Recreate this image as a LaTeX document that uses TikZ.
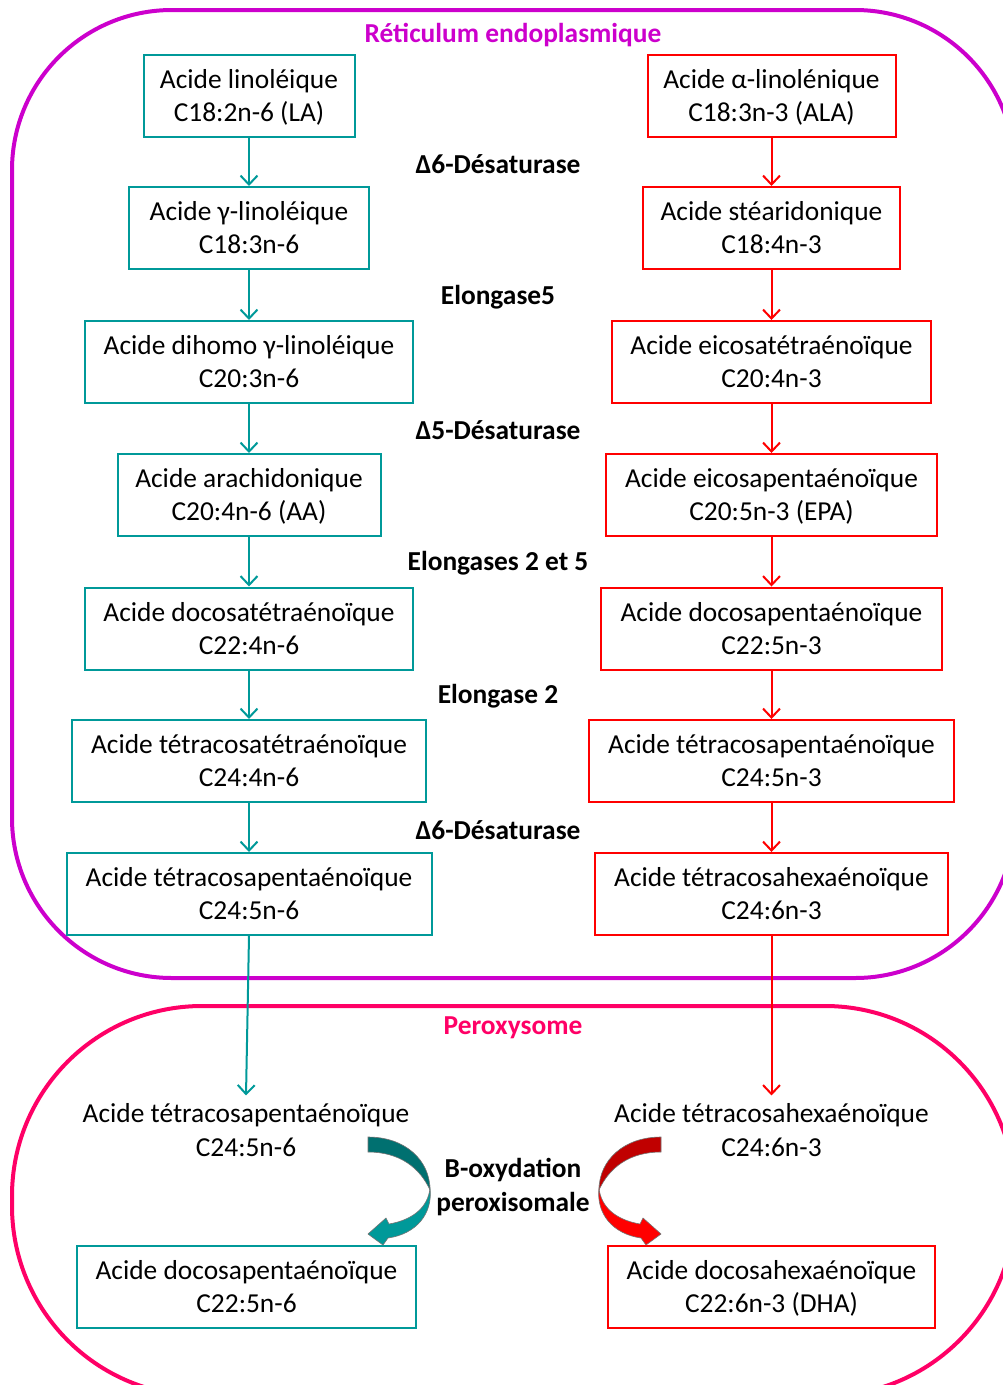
\documentclass[tikz,border=0pt]{standalone}
\usepackage{fontspec}
\setmainfont{Carlito}
\usetikzlibrary{arrows.meta}
\definecolor{tealc}{RGB}{0,153,153}
\definecolor{redc}{RGB}{255,0,0}
\definecolor{ermag}{RGB}{204,0,204}
\definecolor{perox}{RGB}{255,0,102}
\definecolor{tealdark}{RGB}{0,112,112}
\definecolor{reddark}{RGB}{192,0,0}
\begin{document}
\begin{tikzpicture}[x=1pt,y=-1pt,
  every node/.style={font=\fontsize{27.4}{33.4}\selectfont},
  tbox/.style={draw=tealc,line width=2pt,align=center,minimum height=82pt,inner xsep=6pt,fill=white,text depth=0.6pt},
  rbox/.style={draw=redc,line width=2pt,align=center,minimum height=82pt,inner xsep=6pt,fill=white,text depth=0.6pt},
  ptext/.style={align=center,inner sep=8pt},
  lbl/.style={font=\fontsize{27.4}{33.4}\selectfont\bfseries,align=center},
  tarr/.style={draw=tealc,line width=2pt,-{Straight Barb[length=9pt,width=17pt,line width=2pt]}},
  rarr/.style={draw=redc,line width=2pt,-{Straight Barb[length=9pt,width=17pt,line width=2pt]}},
  curvout/.style={draw=black!55,line width=0.6pt}
]
\useasboundingbox (0,0) rectangle (1003,1385);
\clip (0,0) rectangle (1003,1385);

% compartments
\draw[ermag,line width=4pt,rounded corners=160pt] (12,10) rectangle (1015,978);
\draw[perox,line width=4pt,rounded corners=190pt] (12,1006) rectangle (1015,1396);

\node[lbl,text=ermag] (ert) at (513,35) {Réticulum endoplasmique};
\node[lbl,text=perox] (pxt) at (513,1028) {Peroxysome};

% left column (n-6)
\node[tbox,minimum width=211pt] (L1) at (249,96) {Acide linoléique\\C18:2n-6 (LA)};
\node[tbox,minimum width=240pt] (L2) at (249,228) {Acide γ-linoléique\\C18:3n-6};
\node[tbox,minimum width=328pt] (L3) at (249,362) {Acide dihomo γ-linoléique\\C20:3n-6};
\node[tbox,minimum width=263pt] (L4) at (249,495) {Acide arachidonique\\C20:4n-6 (AA)};
\node[tbox,minimum width=328pt] (L5) at (249,628.5) {Acide docosatétraénoïque\\C22:4n-6};
\node[tbox,minimum width=354pt] (L6) at (249,761) {Acide tétracosatétraénoïque\\C24:4n-6};
\node[tbox,minimum width=365pt] (L7) at (249,894) {Acide tétracosapentaénoïque\\C24:5n-6};

% right column (n-3)
\node[rbox,minimum width=248pt] (R1) at (771.5,96) {Acide α-linolénique\\C18:3n-3 (ALA)};
\node[rbox,minimum width=257pt] (R2) at (771.5,228) {Acide stéaridonique\\C18:4n-3};
\node[rbox,minimum width=319pt] (R3) at (771.5,362) {Acide eicosatétraénoïque\\C20:4n-3};
\node[rbox,minimum width=331pt] (R4) at (771.5,495) {Acide eicosapentaénoïque\\C20:5n-3 (EPA)};
\node[rbox,minimum width=341pt] (R5) at (771.5,628.5) {Acide docosapentaénoïque\\C22:5n-3};
\node[rbox,minimum width=365pt] (R6) at (771.5,761) {Acide tétracosapentaénoïque\\C24:5n-3};
\node[rbox,minimum width=353pt] (R7) at (771.5,894) {Acide tétracosahexaénoïque\\C24:6n-3};

% enzyme labels
\node[lbl] (e1) at (498,164) {Δ6-Désaturase};
\node[lbl] (e2) at (498,297) {Elongase5};
\node[lbl] (e3) at (498,430) {Δ5-Désaturase};
\node[lbl] (e4) at (498,563) {Elongases 2 et 5};
\node[lbl] (e5) at (498,696) {Elongase 2};
\node[lbl] (e6) at (498,830) {Δ6-Désaturase};

% arrows in ER
\foreach \a/\b in {L1/L2,L2/L3,L3/L4,L4/L5,L5/L6,L6/L7} \draw[tarr] (\a.south) -- (\b.north);
\foreach \a/\b in {R1/R2,R2/R3,R3/R4,R4/R5,R5/R6,R6/R7} \draw[rarr] (\a.south) -- (\b.north);

% peroxisome
\node[ptext] (P1) at (246,1130) {Acide tétracosapentaénoïque\\C24:5n-6};
\node[ptext] (P2) at (771.5,1130) {Acide tétracosahexaénoïque\\C24:6n-3};
\draw[tarr] (L7.south) -- (P1.north);
\draw[rarr] (R7.south) -- (P2.north);

\node[tbox,minimum width=339pt] (LB) at (246.5,1286.5) {Acide docosapentaénoïque\\C22:5n-6};
\node[rbox,minimum width=327pt] (RB) at (771.5,1286.5) {Acide docosahexaénoïque\\C22:6n-3 (DHA)};

\node[lbl] (box) at (513,1187) {B-oxydation\\peroxisomale};

% curved arrows
\fill[tealdark,curvout] (368,1137) .. controls (405,1137) and (430,1160) .. (430,1190)
  .. controls (420,1168) and (400,1152) .. (368,1152) -- cycle;
\fill[tealc,curvout] (430,1188) .. controls (428,1208) and (412,1220) .. (389,1224)
  -- (386,1218) -- (368,1234) -- (383,1245) -- (388,1238)
  .. controls (416,1234) and (433,1214) .. (430,1188) -- cycle;
\begin{scope}[xshift=1029pt,xscale=-1]
\fill[reddark,curvout] (368,1137) .. controls (405,1137) and (430,1160) .. (430,1190)
  .. controls (420,1168) and (400,1152) .. (368,1152) -- cycle;
\fill[redc,curvout] (430,1188) .. controls (428,1208) and (412,1220) .. (389,1224)
  -- (386,1218) -- (368,1234) -- (383,1245) -- (388,1238)
  .. controls (416,1234) and (433,1214) .. (430,1188) -- cycle;
\end{scope}
\end{tikzpicture}
\end{document}
